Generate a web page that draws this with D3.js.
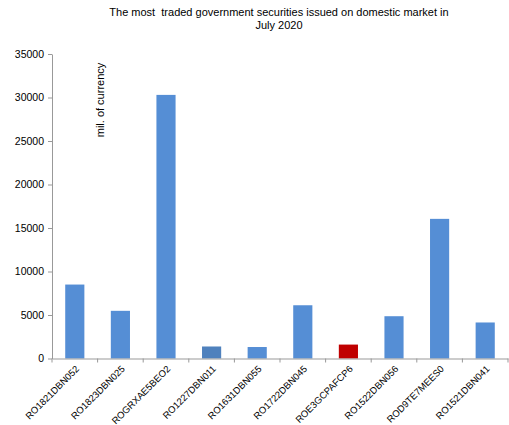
<!DOCTYPE html>
<html><head><meta charset="utf-8">
<script src="https://cdn.jsdelivr.net/npm/d3@7/dist/d3.min.js"></script>
<style>body{margin:0;background:#fff}svg{display:block;font-family:"Liberation Sans",Arial,sans-serif}</style>
</head><body>
<script>
const categories = ["RO1821DBN052","RO1823DBN025","ROGRXAE5BEO2","RO1227DBN011","RO1631DBN055","RO1722DBN045","ROE3GCPAFCP6","RO1522DBN056","ROD9TE7MEES0","RO1521DBN041"];
const values = [8500, 5480, 30300, 1380, 1320, 6120, 1600, 4860, 16050, 4140];
const barColors = ["#558ED5","#558ED5","#558ED5","#4F81BD","#558ED5","#558ED5","#C00000","#558ED5","#558ED5","#558ED5"];
const yTicks = [0,5000,10000,15000,20000,25000,30000,35000];
const titleLines = ["The most  traded government securities issued on domestic market in","July 2020"];
const yLabel = "mil. of currency";

const W = 509, H = 425;
const m = {left:52, right:1, top:54, bottom:66.5};
const svg = d3.select("body").append("svg").attr("width",W).attr("height",H);
const x = d3.scaleBand().domain(categories).range([m.left, W-m.right]).paddingInner(0.58).paddingOuter(0.29);
const y = d3.scaleLinear().domain([0,35000]).range([H-m.bottom, m.top]);

// title
svg.append("text").attr("x",279).attr("y",16).attr("text-anchor","middle").attr("font-size",11).attr("fill","#000")
  .style("white-space","pre")
  .selectAll("tspan").data(titleLines).join("tspan").attr("x",279).attr("dy",(d,i)=>i?12.5:0).text(d=>d);

// bars
svg.selectAll("rect.bar").data(values).join("rect").attr("class","bar")
  .attr("x",(d,i)=>x(categories[i])).attr("width",x.bandwidth())
  .attr("y",d=>y(d)).attr("height",d=>y(0)-y(d))
  .attr("fill",(d,i)=>barColors[i]);

// y axis
const ya = svg.append("g").attr("transform",`translate(${m.left},0)`)
  .call(d3.axisLeft(y).tickValues(yTicks).tickSize(4).tickSizeOuter(0).tickFormat(d3.format("d")));
ya.select(".domain").attr("stroke","#999");
ya.selectAll(".tick line").attr("stroke","#999");
ya.selectAll(".tick text").attr("font-size",10.5).attr("fill","#000").attr("font-family","Liberation Sans, Arial, sans-serif").attr("x",-8);

// x axis
const xa = svg.append("g").attr("transform",`translate(0,${y(0)})`)
  .call(d3.axisBottom(x).tickSize(0).tickSizeOuter(0));
xa.select(".domain").attr("stroke","#999");
const step = x.step();
const bounds = d3.range(categories.length+1).map(i=>m.left + i*step);
xa.selectAll("line.sep").data(bounds).join("line").attr("class","sep")
  .attr("x1",d=>d).attr("x2",d=>d).attr("y1",0).attr("y2",4).attr("stroke","#999");
xa.selectAll(".tick text").attr("font-size",9.5).attr("fill","#000").attr("font-family","Liberation Sans, Arial, sans-serif")
  .attr("text-anchor","end").attr("dy",0).attr("y",0)
  .attr("transform","translate(5,11) rotate(-45)");

// y label
svg.append("text").attr("transform","translate(104,100) rotate(-90)").attr("text-anchor","middle")
  .attr("font-size",11).attr("fill","#000").text(yLabel);
</script>
</body></html>
